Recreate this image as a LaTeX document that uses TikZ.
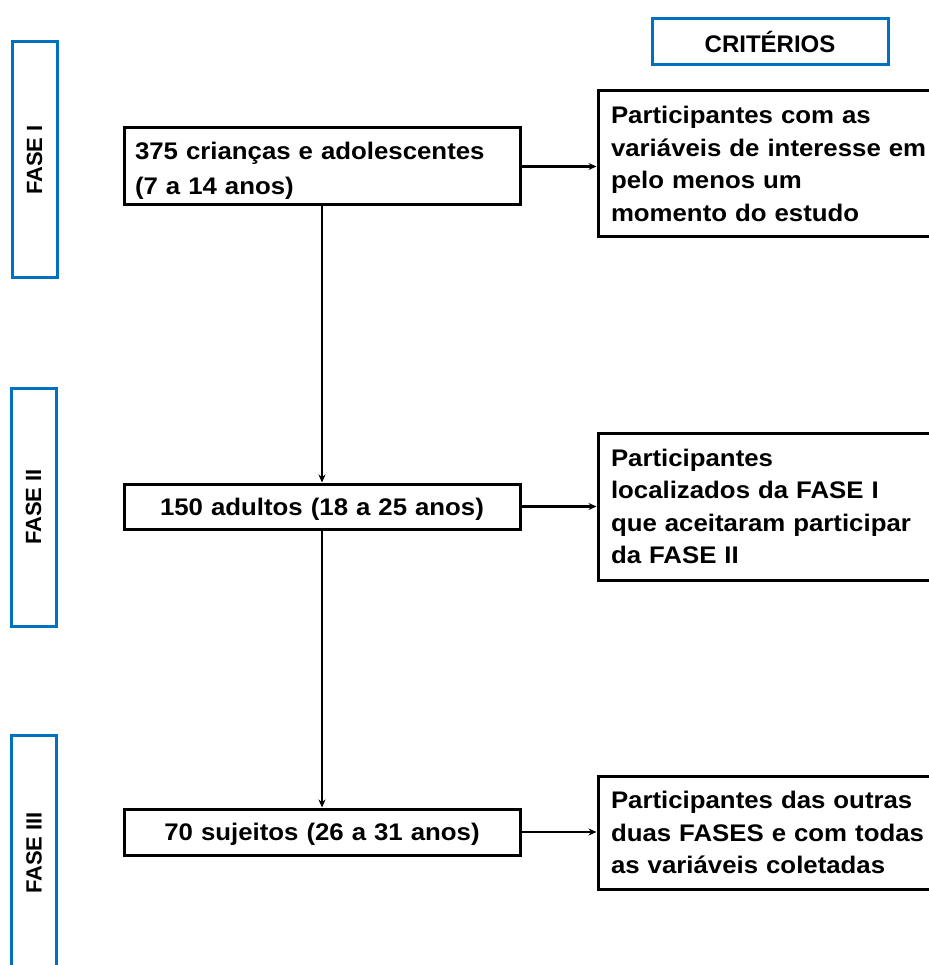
\documentclass[tikz,border=0pt]{standalone}
\usepackage{fontspec}
\setmainfont{Liberation Sans}[FakeStretch=1.075]
\newfontfamily\labelfont{Liberation Sans}
\usetikzlibrary{arrows.meta}
\definecolor{phaseblue}{RGB}{0,112,192}
\tikzset{
  phasebox/.style={draw=phaseblue, line width=3pt, rectangle, rotate=90,
    minimum height=45pt, inner sep=0pt, font=\labelfont\bfseries\fontsize{22}{26}\selectfont},
  critbox/.style={draw=phaseblue, line width=3pt, rectangle, minimum width=236pt,
    minimum height=46pt, inner sep=0pt, font=\labelfont\bfseries\fontsize{24}{28}\selectfont},
  mainbox/.style={draw=black, line width=3pt, rectangle, minimum width=396pt,
    inner xsep=11pt, inner ysep=0pt, font=\bfseries\fontsize{24}{35}\selectfont},
  rulebox/.style={draw=black, line width=3pt, rectangle, text width=345pt,
    inner xsep=13pt, inner ysep=0pt, align=left, font=\bfseries\fontsize{24}{32.5}\selectfont},
  flow/.style={line width=2.6pt, -{Stealth[length=8pt,width=7pt]}},
  down/.style={line width=1.8pt, -{Stealth[length=8pt,width=7pt]}}
}
\begin{document}
\begin{tikzpicture}[x=1pt,y=-1pt]
\useasboundingbox (0,0) rectangle (928,965);

% phase labels
\node[phasebox, minimum width=236pt] (f1) at (34.5,160) {FASE I};
\node[phasebox, minimum width=238pt] (f2) at (33.5,507) {FASE II};
\node[phasebox, minimum width=236pt] (f3) at (34,853) {FASE III};
\node[critbox] (crit) at (770,42) {CRITÉRIOS};

% main boxes
\node[mainbox, minimum height=77pt, text width=374pt, align=left] (a) at (322,166.5)
  {\rule{0pt}{26pt}375 crianças e adolescentes\\(7 a 14 anos)};
\node[mainbox, minimum height=45pt, text width=374pt, text height=17pt, text depth=0pt, align=center] (b) at (322,506.5)
  {150 adultos (18 a 25 anos)};
\node[mainbox, minimum height=46pt, text width=374pt, text height=17pt, text depth=0pt, align=center] (c) at (322,832)
  {70 sujeitos (26 a 31 anos)};

% criteria boxes (right side runs past the page edge, as in the reference)
\node[rulebox, minimum height=146pt] (r1) at (783.5,164)
  {Participantes com as\\variáveis de interesse em\\pelo menos um\\momento do estudo};
\node[rulebox, minimum height=147pt] (r2) at (783.5,506.5)
  {Participantes\\localizados da FASE I\\que aceitaram participar\\da FASE II};
\node[rulebox, minimum height=113pt] (r3) at (783.5,832.5)
  {Participantes das outras\\duas FASES e com todas\\as variáveis coletadas};

% connectors
\draw[flow] (a.east) -- (a.east -| r1.west);
\draw[flow] (b.east) -- (b.east -| r2.west);
\draw[flow] (c.east) -- (c.east -| r3.west);
\draw[down] (a.south) -- (b.north);
\draw[down] (b.south) -- (c.north);
\end{tikzpicture}
\end{document}
